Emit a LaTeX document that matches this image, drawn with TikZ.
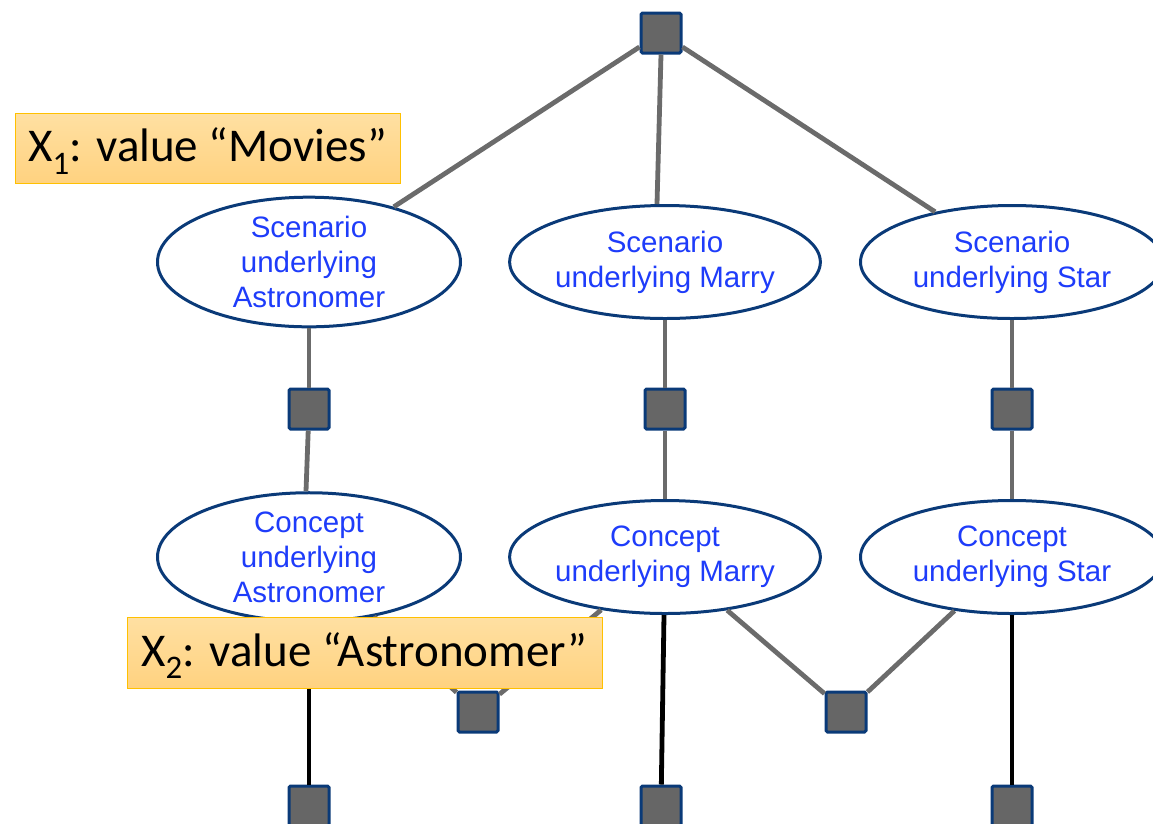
\documentclass[tikz,border=0pt]{standalone}
\usepackage{fontspec}
\setmainfont{Liberation Sans}
\newfontfamily\tagfont{Carlito}
\usetikzlibrary{shapes.geometric}

\definecolor{edgeblue}{RGB}{10,58,120}
\definecolor{facgray}{RGB}{102,102,102}
\definecolor{linkgray}{RGB}{107,107,107}
\definecolor{txtblue}{RGB}{30,60,250}
\definecolor{tagtop}{RGB}{255,224,162}
\definecolor{tagbottom}{RGB}{255,210,128}
\definecolor{tagedge}{RGB}{255,192,0}

\tikzset{
  factor/.style={rectangle, draw=edgeblue, fill=facgray, line width=3pt,
    minimum size=40pt, inner sep=0pt, rounded corners=1.5pt},
  var/.style={ellipse, draw=edgeblue, fill=white, line width=3pt,
    minimum width=303pt, minimum height=113pt, inner sep=0pt,
    text=txtblue, align=center, font=\fontsize{29.5}{35}\selectfont},
  link/.style={draw=linkgray, line width=4.8pt},
  obs/.style={draw=black, line width=4.8pt},
  tag/.style={rectangle, draw=tagedge, line width=1pt,
    top color=tagtop, bottom color=tagbottom, inner sep=0pt,
    font=\tagfont\fontsize{47}{47}\selectfont}
}

\begin{document}
\begin{tikzpicture}[x=1pt,y=-1pt]
  \useasboundingbox (0,0) rectangle (1153,823);

  % factor nodes
  \node[factor] (ftop) at (661,33) {};
  \node[factor] (fa)   at (309,409) {};
  \node[factor] (fm)   at (665,409) {};
  \node[factor] (fs)   at (1012,409) {};
  \node[factor] (fam)  at (478,712) {};
  \node[factor] (fms)  at (846,712) {};
  \node[factor] (ba)   at (309,806) {};
  \node[factor] (bm)   at (661,806) {};
  \node[factor] (bs)   at (1012,806) {};

  % scenario and concept variables
  \node[var] (sa) at (309,262) {Scenario\\underlying\\Astronomer};
  \node[var] (sm) at (665,262) {Scenario\\underlying Marry};
  \node[var] (ss) at (1012,262) {Scenario\\underlying Star};
  \node[var] (ca) at (309,557) {Concept\\underlying\\Astronomer};
  \node[var] (cm) at (665,557) {Concept\\underlying Marry};
  \node[var] (cs) at (1012,557) {Concept\\underlying Star};

  % edges
  \draw[link] (ftop) -- (sa);
  \draw[link] (ftop.south) -- ([xshift=-8pt]sm.north);
  \draw[link] (ftop) -- (ss);
  \draw[link] (sa) -- (fa);
  \draw[link] (fa) -- ([xshift=-3pt]ca.north);
  \draw[link] (sm) -- (fm);
  \draw[link] (fm) -- (cm);
  \draw[link] (ss) -- (fs);
  \draw[link] (fs) -- (cs);
  \draw[link] (ca) -- (fam);
  \draw[link] (cm) -- (fam);
  \draw[link] (cm) -- (fms);
  \draw[link] (cs) -- (fms);
  \draw[obs] (ca) -- (ba);
  \draw[obs] ([xshift=-1pt]cm.south) -- (bm);
  \draw[obs] (cs) -- (bs);

  % variable labels
  \node[tag, minimum width=385pt, minimum height=70pt] (x1) at (207.5,148)
    {\raisebox{-3pt}[\height][\depth]{X\textsubscript{1}: value “Movies”}};
  \node[tag, minimum width=475pt, minimum height=71pt] (x2) at (364.5,652.5)
    {\raisebox{-3pt}[\height][\depth]{X\textsubscript{2}: value “Astronomer”}};
\end{tikzpicture}
\end{document}
